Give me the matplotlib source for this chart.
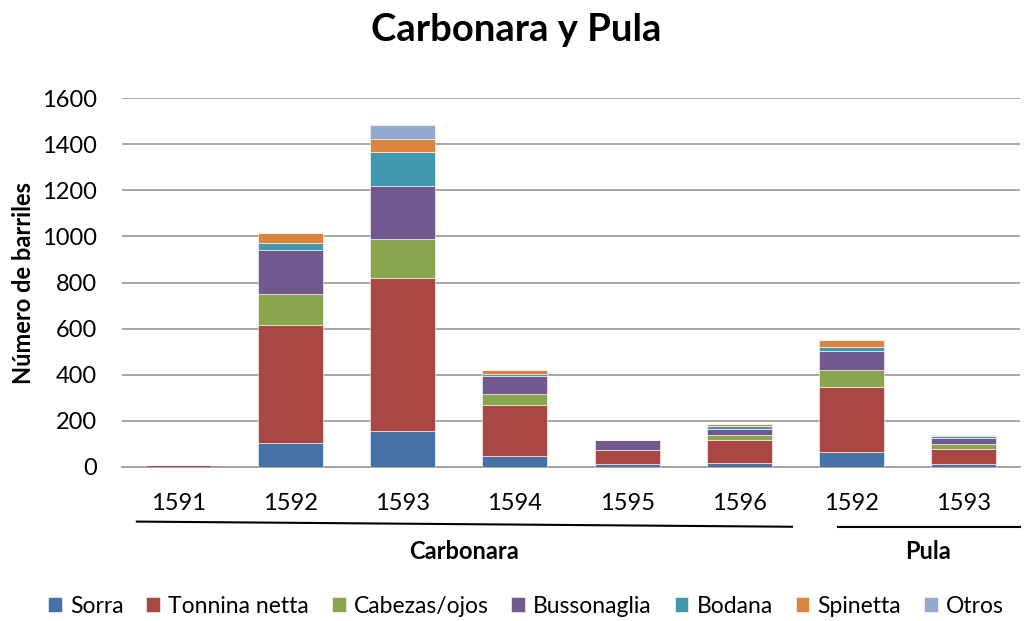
import numpy as np
import matplotlib.pyplot as plt
from matplotlib.lines import Line2D

plt.rcParams['font.family'] = ['Lato', 'DejaVu Sans']

years = ['1591', '1592', '1593', '1594', '1595', '1596', '1592', '1593']
groups = ['Carbonara', 'Pula']

sorra = [0, 105, 154, 49, 13, 17, 65, 12]
tonnina = [8, 513, 666, 221, 59, 100, 280, 66]
cabezas = [0, 132, 170, 47, 0, 20, 76, 20]
busso = [0, 190, 228, 77, 43, 27, 82, 29]
bodana = [0, 33, 147, 10, 0, 13, 17, 6]
spinetta = [0, 43, 56, 18, 0, 8, 31, 4]
otros = [0, 0, 64, 0, 0, 3, 0, 0]

series = [('Sorra', sorra, '#4572A7'),
          ('Tonnina netta', tonnina, '#AA4643'),
          ('Cabezas/ojos', cabezas, '#89A54E'),
          ('Bussonaglia', busso, '#71588F'),
          ('Bodana', bodana, '#4198AF'),
          ('Spinetta', spinetta, '#DB843D'),
          ('Otros', otros, '#93A9CF')]

fig = plt.figure(figsize=(10.27, 6.21), dpi=100)
ax = fig.add_axes([0.119, 0.248, 0.874, 0.594])

x = np.arange(len(years))
bottom = np.zeros(len(years))
for name, vals, col in series:
    ax.bar(x, vals, 0.58, bottom=bottom, color=col, label=name,
           edgecolor='white', linewidth=0.4, zorder=3)
    bottom += np.array(vals)

ax.set_xlim(-0.5, len(years) - 0.5)
ax.set_ylim(0, 1600)
ax.set_yticks(np.arange(0, 1601, 200))
ax.yaxis.grid(True, color='#a0a0a0', linewidth=1.3, zorder=0)
for s in ['top', 'right', 'left']:
    ax.spines[s].set_visible(False)
ax.spines['bottom'].set_color('#a0a0a0')
ax.spines['bottom'].set_linewidth(1.3)
ax.tick_params(axis='y', length=0, labelsize=17, pad=18)
ax.set_xticks(x)
ax.set_xticklabels(years)
ax.tick_params(axis='x', length=0, labelsize=17, pad=19)
ax.set_ylabel('Número de barriles', fontsize=17, fontweight='bold', labelpad=5)

fig.text(0.503, 0.952, 'Carbonara y Pula', ha='center', va='center',
         fontsize=27.5, fontweight='bold')

# group brackets under the year labels
tr = ax.get_xaxis_transform()
ax.add_line(Line2D([-0.37, 5.47], [-0.148, -0.162], transform=tr, color='black',
                   linewidth=1.5, clip_on=False))
ax.add_line(Line2D([5.88, 7.5], [-0.162, -0.162], transform=tr, color='black',
                   linewidth=1.5, clip_on=False))
ax.text(2.55, -0.23, groups[0], transform=tr, ha='center', va='center',
        fontsize=17, fontweight='bold')
ax.text(6.68, -0.23, groups[1], transform=tr, ha='center', va='center',
        fontsize=17, fontweight='bold')

fig.legend(loc='center', bbox_to_anchor=(0.512, 0.024), ncol=7, frameon=False,
           fontsize=16.5, handlelength=0.6, handleheight=0.6, handletextpad=0.35,
           columnspacing=1.0)

fig.savefig('out.png', dpi=100)
